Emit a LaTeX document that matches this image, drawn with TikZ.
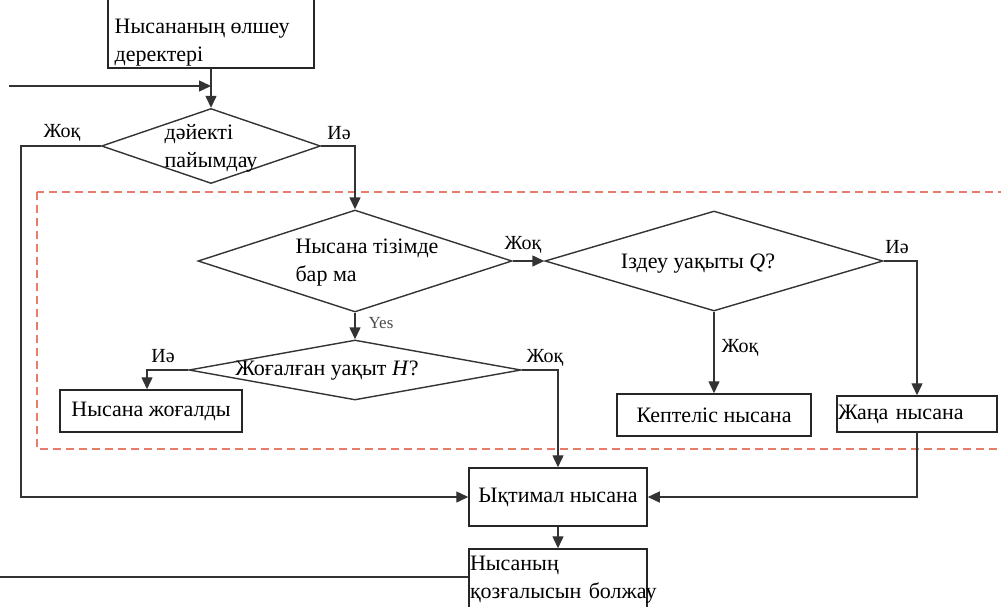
\documentclass[tikz,border=0pt]{standalone}
\usepackage{fontspec}
\setmainfont{Liberation Serif}
\usetikzlibrary{shapes.geometric, arrows.meta, calc, positioning}
\definecolor{zonered}{RGB}{232,124,106}

\begin{document}
\begin{tikzpicture}[x=1pt,y=-1pt,>={Triangle[length=12pt,width=11pt]},line width=1.4pt,
	every node/.style={font=\fontsize{22}{28}\selectfont, inner sep=0pt}]
	\tikzset{blok/.style={draw=black!85, rectangle, line width=1.5pt},
		dec/.style={draw=black!80, diamond},
		txt/.style={align=left},
		lbl/.style={font=\fontsize{20}{22}\selectfont},
		flow/.style={draw=black!80}}
	\clip (0,0) rectangle (1001,606);
	% dashed tracking zone
	\draw[zonered, line width=1.4pt, dash pattern=on 8pt off 5pt] (37,192) rectangle (1012,449);
	% boxes and decisions
	\node[blok, minimum width=206, minimum height=100] (meas) at (211,18) {};
	\node[txt, anchor=west] (meas-t) at (114,43) {Нысананың өлшеу\\деректері};
	\node[dec, minimum width=219, minimum height=75] (d1) at (211,146) {};
	\node[txt] (d1-t) at (211,148) {дәйекті\\пайымдау};
	\node[dec, minimum width=314, minimum height=102] (d2) at (355,261) {};
	\node[txt] (d2-t) at (367,263) {Нысана тізімде\\бар ма};
	\node[dec, minimum width=338, minimum height=100] (d3) at (714,261) {};
	\node[txt] (d3-t) at (698,264) {Іздеу уақыты \textit{Q}?};
	\node[dec, minimum width=332, minimum height=60] (d4) at (355,370) {};
	\node[txt] (d4-t) at (327,371) {Жоғалған уақыт \textit{H}?};
	\node[blok, minimum width=182, minimum height=42] (lost) at (151,411) {Нысана жоғалды};
	\node[blok, minimum width=194, minimum height=42] (jam) at (714,415) {Кептеліс нысана};
	\node[blok, text width=158, inner xsep=1pt, minimum height=36, align=left] (new) at (917,414) {Жаңа нысана};
	\node[blok, minimum width=178, minimum height=58] (prob) at (558,497) {Ықтимал нысана};
	\node[blok, text width=176, inner xsep=1pt, minimum height=62, align=left] (pred) at (558,580) {Нысаның\\\mbox{қозғалысын болжау}};
	\coordinate (in1) at (9,86);
	\coordinate (in2) at (0,577);
	% connectors
	\draw[flow, ->] (in1) -- (in1 -| d1.north);
	\draw[flow, ->] (meas.south) -- (d1.north);
	\draw[flow, ->] (d1.west) -- ++(-80,0) |- (prob.west);
	\draw[flow, ->] (d1.east) -| (d2.north);
	\draw[flow, ->] (d2.east) -- (d3.west);
	\draw[flow, ->] (d2.south) -- (d4.north);
	\draw[flow, ->] (d3.east) -| (new.north);
	\draw[flow, ->] (d3.south) -- (jam.north);
	\draw[flow, ->] (d4.east) -| (prob.north);
	\draw[flow, ->] (d4.west) -| ([xshift=-4pt]lost.north);
	\draw[flow, ->] (new.south) |- (prob.east);
	\draw[flow, ->] (prob.south) -- (pred.north);
	\draw[flow] (in2) -- (in2 -| pred.west);
	% branch labels
	\node[lbl] (l1) at (62,133) {Жоқ};
	\node[lbl] (l2) at (339,133) {Иә};
	\node[lbl] (l3) at (523,245) {Жоқ};
	\node[lbl, font=\fontsize{17}{18}\selectfont, text=black!70] (l4) at (381,323) {Yes};
	\node[lbl] (l5) at (897,247) {Иә};
	\node[lbl] (l6) at (740,348) {Жоқ};
	\node[lbl] (l7) at (545,358) {Жоқ};
	\node[lbl] (l8) at (163,356) {Иә};
\end{tikzpicture}
\end{document}
